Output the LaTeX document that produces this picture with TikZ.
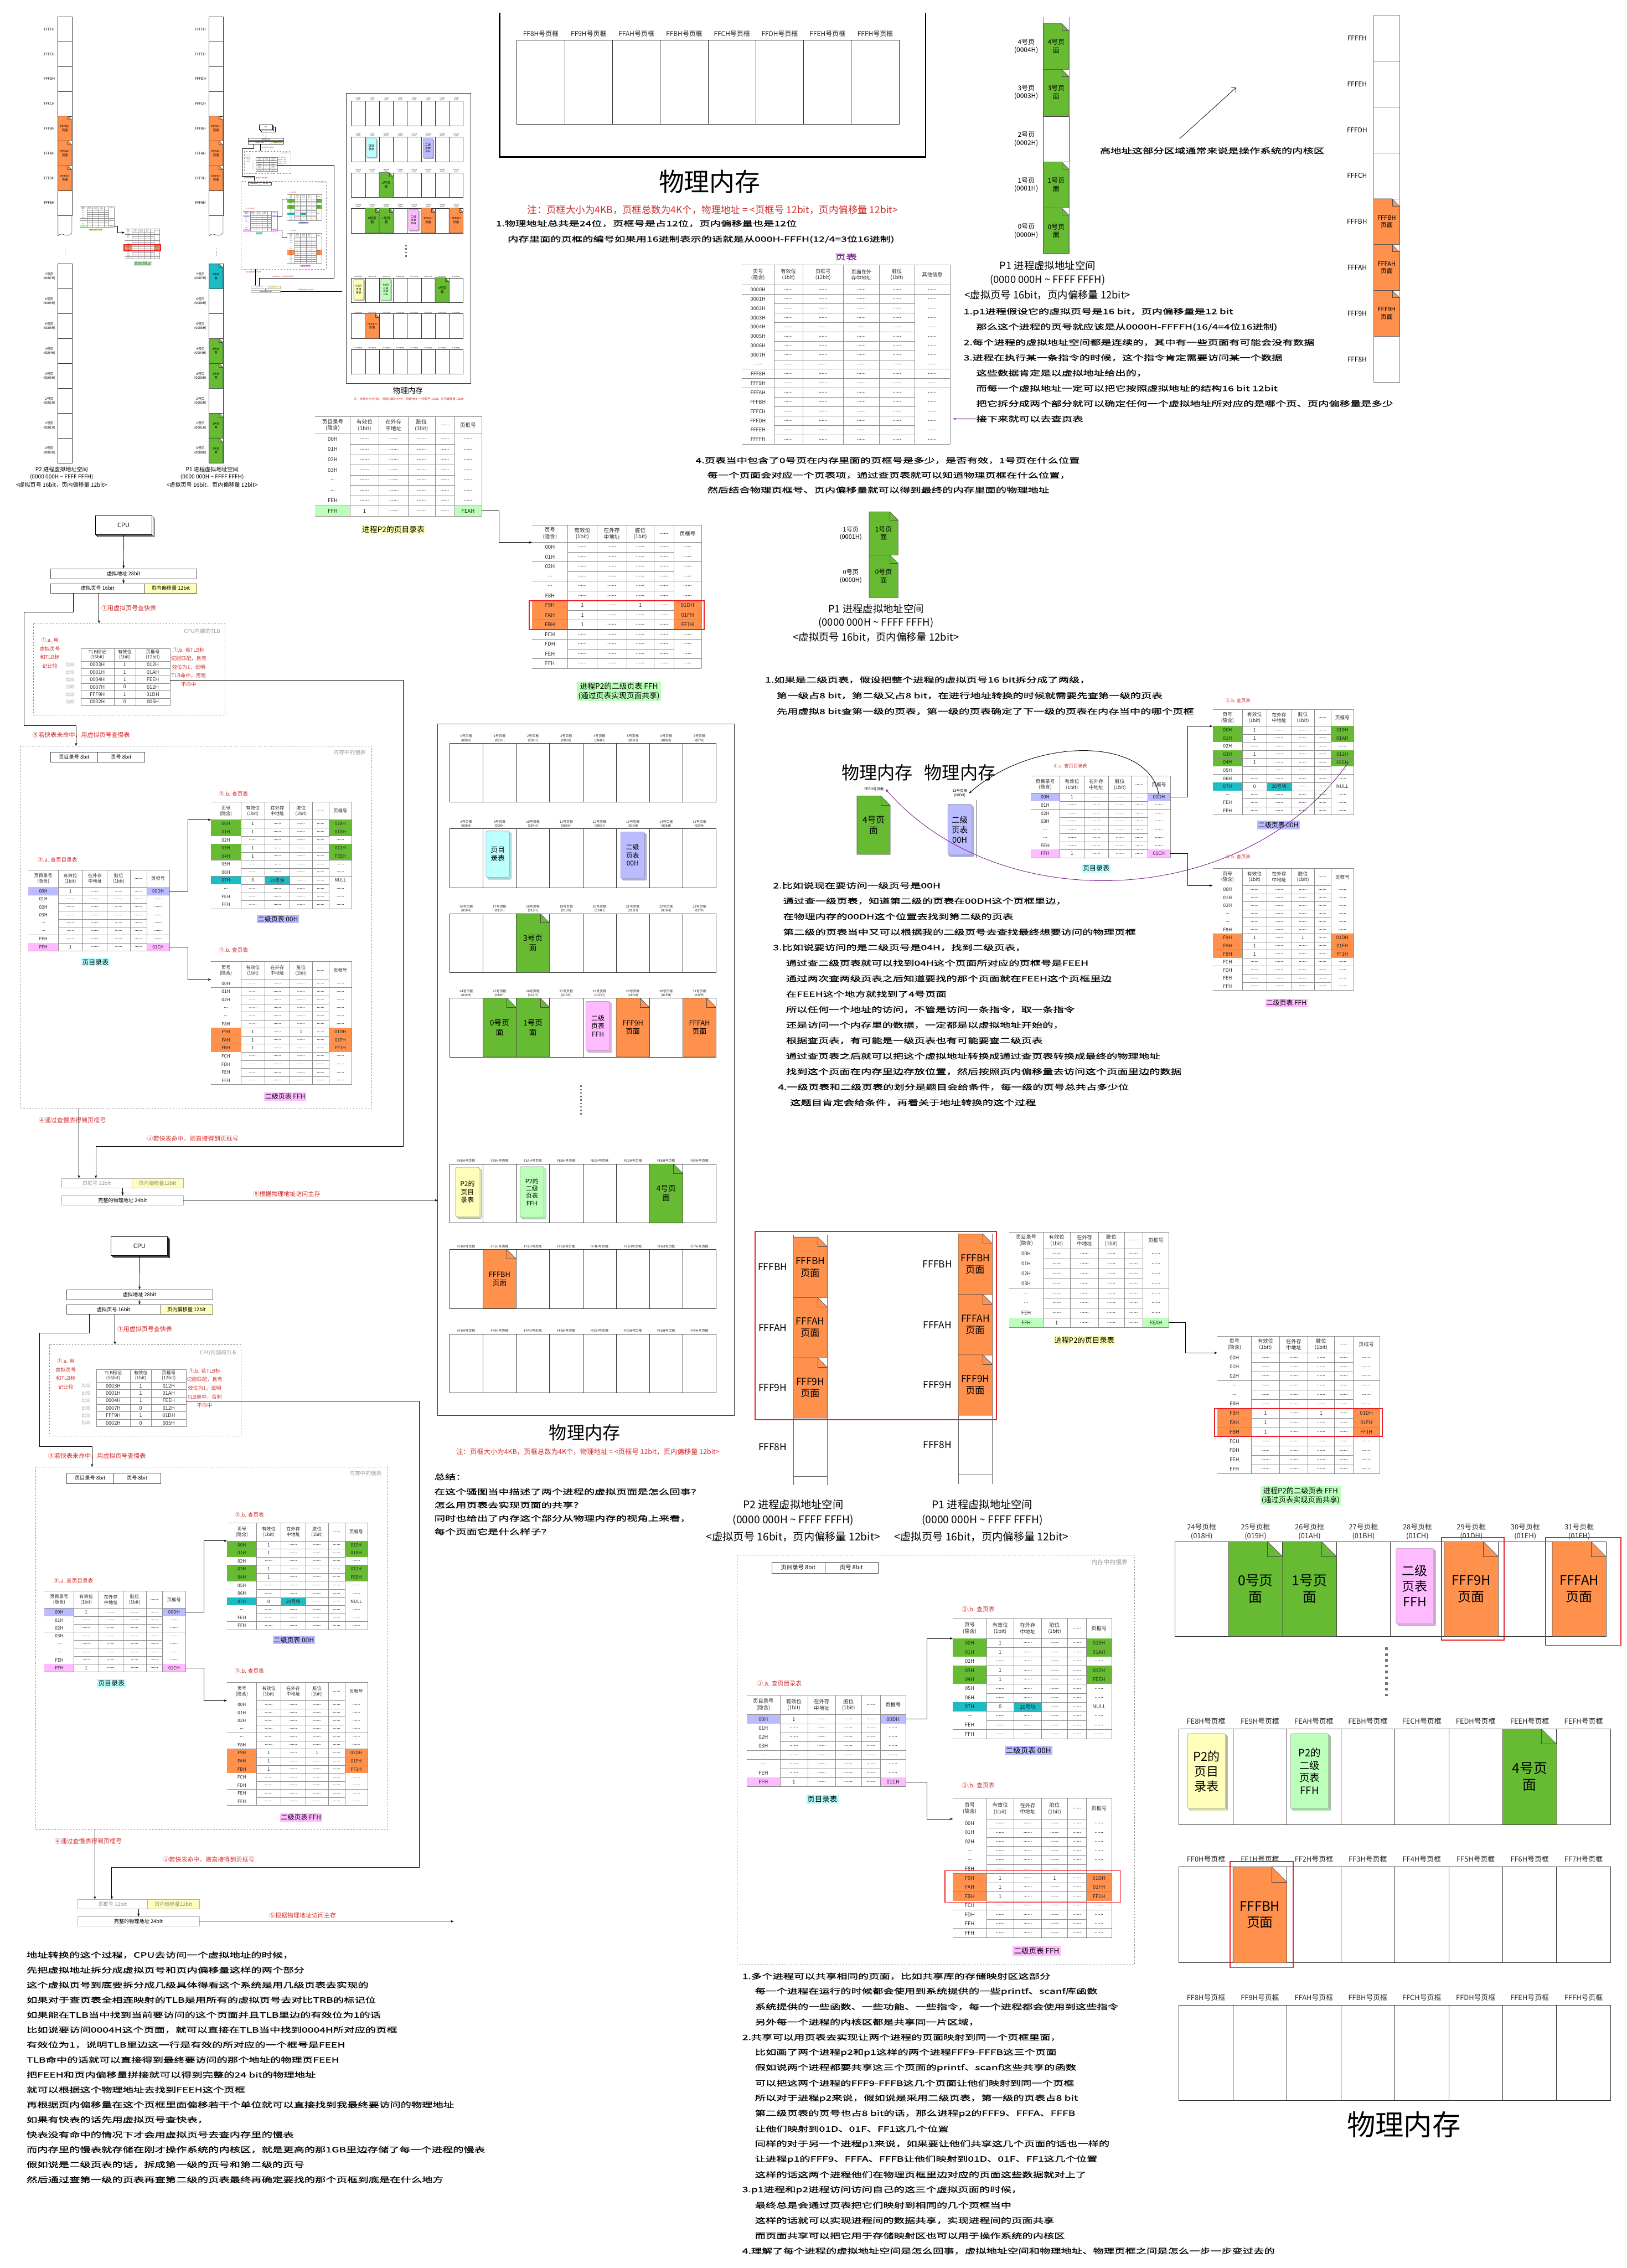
\documentclass[tikz,border=0pt]{standalone}
\usepackage{fontspec}
\setmainfont{Noto Sans CJK SC}
\newfontfamily\hand[FakeStretch=1.45, FakeBold=1]{Noto Sans CJK SC}
\usetikzlibrary{positioning,arrows.meta,shadows}

% colours of the page blocks and labels
\definecolor{pggreen}{HTML}{66BB33}
\definecolor{pgorange}{HTML}{FF914D}
\definecolor{pgviolet}{HTML}{BBBBFF}
\definecolor{pgpink}{HTML}{FFBBFF}
\definecolor{pgcyan}{HTML}{BBFFFF}
\definecolor{pgteal}{HTML}{1CBCC4}
\definecolor{pgyellow}{HTML}{FFFFBB}
\definecolor{pglime}{HTML}{BBFFBB}
\definecolor{notered}{HTML}{D42A2A}
\definecolor{boxred}{HTML}{E8202A}
\definecolor{curvepurple}{HTML}{7A1F8C}
\colorlet{nc}{white}

\newcommand{\fsz}[1]{\fontsize{#1}{\fpeval{1.22*#1}}\selectfont}
\def\dd{......}
\def\tdots{...}
\def\colf{{0,.21,.383,.558,.72,.837,1}}

% table heads
\def\hpg{{页号\\(隐含)},{有效位\\(1bit)},{在外存\\中地址},{脏位\\(1bit)},{\dd},{页框号}}
\def\hdir{{页目录号\\(隐含)},{有效位\\(1bit)},{在外存\\中地址},{脏位\\(1bit)},{\dd},{页框号}}
\def\hpt{{页号\\(隐含)},{有效位\\(1bit)},{页框号\\(12bit)},{页面在外\\存中地址},{脏位\\(1bit)},{其他信息}}

% table rows: label/valid/disk/dirty/frame/label colour/frame colour
\def\rowsPT{0000H/\dd/\dd/\dd/\dd/nc/nc,0001H/\dd/\dd/\dd/\dd/nc/nc,0002H/\dd/\dd/\dd/\dd/nc/nc,0003H/\dd/\dd/\dd/\dd/nc/nc,0004H/\dd/\dd/\dd/\dd/nc/nc,0005H/\dd/\dd/\dd/\dd/nc/nc,0006H/\dd/\dd/\dd/\dd/nc/nc,0007H/\dd/\dd/\dd/\dd/nc/nc,\dd/\dd/\dd/\dd/\dd/nc/nc,FFF8H/\dd/\dd/\dd/\dd/nc/nc,FFF9H/\dd/\dd/\dd/\dd/nc/nc,FFFAH/\dd/\dd/\dd/\dd/nc/nc,FFFBH/\dd/\dd/\dd/\dd/nc/nc,FFFCH/\dd/\dd/\dd/\dd/nc/nc,FFFDH/\dd/\dd/\dd/\dd/nc/nc,FFFEH/\dd/\dd/\dd/\dd/nc/nc,FFFFH/\dd/\dd/\dd/\dd/nc/nc}
\def\rowsTD{00H/1/\dd/\dd/00DH/pgviolet/pgviolet,01H/\dd/\dd/\dd/\dd/nc/nc,02H/\dd/\dd/\dd/\dd/nc/nc,03H/\dd/\dd/\dd/\dd/nc/nc,\tdots/\dd/\dd/\dd/\dd/nc/nc,\tdots/\dd/\dd/\dd/\dd/nc/nc,FEH/\dd/\dd/\dd/\dd/nc/nc,FFH/1/\dd/\dd/01CH/pgpink/pgpink}
\def\rowsPD{00H/\dd/\dd/\dd/\dd/nc/nc,01H/\dd/\dd/\dd/\dd/nc/nc,02H/\dd/\dd/\dd/\dd/nc/nc,03H/\dd/\dd/\dd/\dd/nc/nc,\tdots/\dd/\dd/\dd/\dd/nc/nc,\tdots/\dd/\dd/\dd/\dd/nc/nc,FEH/\dd/\dd/\dd/\dd/nc/nc,FFH/1/\dd/\dd/FEAH/pglime/pglime}
\def\rowsTA{00H/1/\dd/\dd/019H/pggreen/pggreen,01H/1/\dd/\dd/01AH/pggreen/pggreen,02H/\dd/\dd/\dd/\dd/nc/nc,03H/1/\dd/\dd/012H/pggreen/pggreen,04H/1/\dd/\dd/FEEH/pggreen/pggreen,05H/\dd/\dd/\dd/\dd/nc/nc,06H/\dd/\dd/\dd/\dd/nc/nc,07H/0/20号块/\dd/NULL/pgteal/nc,\tdots/\dd/\dd/\dd/\dd/nc/nc,FEH/\dd/\dd/\dd/\dd/nc/nc,FFH/\dd/\dd/\dd/\dd/nc/nc}
\def\rowsTF{00H/\dd/\dd/\dd/\dd/nc/nc,01H/\dd/\dd/\dd/\dd/nc/nc,02H/\dd/\dd/\dd/\dd/nc/nc,\tdots/\dd/\dd/\dd/\dd/nc/nc,\tdots/\dd/\dd/\dd/\dd/nc/nc,F8H/\dd/\dd/\dd/\dd/nc/nc,F9H/1/\dd/1/01DH/pgorange/pgorange,FAH/1/\dd/\dd/01FH/pgorange/pgorange,FBH/1/\dd/\dd/FF1H/pgorange/pgorange,FCH/\dd/\dd/\dd/\dd/nc/nc,FDH/\dd/\dd/\dd/\dd/nc/nc,FEH/\dd/\dd/\dd/\dd/nc/nc,FFH/\dd/\dd/\dd/\dd/nc/nc}

% \ptab{name}{x}{y}{width}{head h}{row h}{heads}{rows}{font}
\newcommand{\ptab}[9]{%
  \begin{scope}[shift={(#2,#3)}, font=#9]
    \draw[tabline] (0,0) -- (#4,0) (0,#5) -- (#4,#5);
    \foreach \h [count=\j] in #7 {
      \pgfmathsetmacro\xa{\colf[\j-1]*#4}
      \pgfmathsetmacro\xb{\colf[\j]*#4}
      \draw[tabline] (\xb,0) -- (\xb,#5);
      \node[tabtext] (#1-h\j) at ({(\xa+\xb)/2},{#5/2}) {\h};
    }
    \foreach \l/\va/\vb/\vc/\vf/\cl/\cf [count=\i] in #8 {
      \pgfmathsetmacro\ya{#5+(\i-1)*#6}
      \pgfmathsetmacro\yb{\ya+#6}
      \pgfmathsetmacro\xl{\colf[1]*#4}
      \pgfmathsetmacro\xf{\colf[5]*#4}
      \fill[\cl] (0,\ya) rectangle (\xl,\yb);
      \fill[\cf] (\xf,\ya) rectangle (#4,\yb);
      \coordinate (#1-w\i) at (0,\ya);
      \coordinate (#1-e\i) at (#4,{\ya+#6/2});
      \draw[tabline] (0,\yb) -- (#4,\yb);
      \foreach \v [count=\k] in {\l,\va,\vb,\vc,\dd,\vf} {
        \pgfmathsetmacro\xa{\colf[\k-1]*#4}
        \pgfmathsetmacro\xb{\colf[\k]*#4}
        \draw[tabline] (\xb,\ya) -- (\xb,\yb);
        \node[tabtext] (#1-r\i-\k) at ({(\xa+\xb)/2},{(\ya+\yb)/2}) {\v};
      }
    }
  \end{scope}}

% one row of eight page frames with their labels
\newcommand{\memrow}[8]{%
  \foreach \t [count=\i] in {#6} {
    \draw[frm] ({#2+(\i-1)*#4},#3) rectangle ++(#4,#5);
    \node[lbltext, font=#7] (#1-\i) at ({#2+(\i-0.5)*#4},{#3-#8}) {\t};
  }}

% page with a folded corner
\newcommand{\pagenode}[8]{%
  \filldraw[fill=#6, draw=black!70, line width=0.25mm] (#2,#3) -- ++({0.72*#4},0) -- ++({0.28*#4},{0.28*#4}) -- ++(0,{#5-0.28*#4}) -- ++(-#4,0) -- cycle;
  \draw[black!70, line width=0.25mm] ({#2+0.72*#4},#3) -- ++(0,{0.28*#4}) -- ++({0.28*#4},0);
  \node[align=center, inner sep=0, font=#8] (#1) at ({#2+0.5*#4},{#3+0.5*#5}) {#7};}

% stack of sheets (page tables)
\newcommand{\stacknode}[8]{%
  \foreach \o in {1.4,0.7,0} \filldraw[fill=#6, draw=black!45, line width=0.2mm, rounded corners=0.6mm] ({#2+\o},{#3+\o}) rectangle ++(#4,#5);
  \node[align=center, inner sep=0, font=#8] (#1) at ({#2+0.5*#4},{#3+0.5*#5}) {#7};}

% physical memory with 7 rows of frames: name, x, y, scale
\newcommand{\physmem}[4]{%
  \begin{scope}[shift={(#2,#3)}, scale=#4, transform shape]
    \draw[black!80, line width=0.35mm] (0,0) rectangle (205.2,478.1);
    \coordinate (#1-in) at (0,329.9);
    \memrow{#1-a}{8.2}{13.3}{23.04}{40.8}{0号页框\\(000H),1号页框\\(001H),2号页框\\(002H),3号页框\\(003H),4号页框\\(004H),5号页框\\(005H),6号页框\\(006H),7号页框\\(007H)}{\fsz{6.5}}{0.6}
    \memrow{#1-b}{8.2}{72.4}{23.04}{40.8}{8号页框\\(008H),9号页框\\(009H),10号页框\\(00AH),11号页框\\(00BH),12号页框\\(00CH),13号页框\\(00DH),14号页框\\(00EH),15号页框\\(00FH)}{\fsz{6.5}}{0.6}
    \memrow{#1-c}{8.2}{131.1}{23.04}{40.8}{16号页框\\(010H),17号页框\\(011H),18号页框\\(012H),19号页框\\(013H),20号页框\\(014H),21号页框\\(015H),22号页框\\(016H),23号页框\\(017H)}{\fsz{6.5}}{0.6}
    \memrow{#1-d}{8.2}{189.5}{23.04}{40.8}{24号页框\\(018H),25号页框\\(019H),26号页框\\(01AH),27号页框\\(01BH),28号页框\\(01CH),29号页框\\(01DH),30号页框\\(01EH),31号页框\\(01FH)}{\fsz{6.5}}{0.6}
    \memrow{#1-e}{8.2}{304.2}{23.04}{40.8}{FE8H号页框,FE9H号页框,FEAH号页框,FEBH号页框,FECH号页框,FEDH号页框,FEEH号页框,FEFH号页框}{\fsz{6.5}}{1}
    \memrow{#1-f}{8.2}{363.3}{23.04}{40.8}{FF0H号页框,FF1H号页框,FF2H号页框,FF3H号页框,FF4H号页框,FF5H号页框,FF6H号页框,FF7H号页框}{\fsz{6.5}}{1}
    \memrow{#1-g}{8.2}{421.7}{23.04}{40.8}{FF8H号页框,FF9H号页框,FFAH号页框,FFBH号页框,FFCH号页框,FFDH号页框,FFEH号页框,FFFH号页框}{\fsz{6.5}}{1}
    \stacknode{#1-dir}{33.4}{74}{16.2}{32}{pgcyan}{页目\\录表}{\fsz{14}}
    \stacknode{#1-t00}{126.5}{74.7}{16.5}{32}{pgviolet}{二级\\页表\\00H}{\fsz{13}}
    \pagenode{#1-p3}{54.28}{131.1}{23.04}{40.8}{pggreen}{3号页\\面}{\fsz{15}}
    \pagenode{#1-p0}{31.24}{189.5}{23.04}{40.8}{pggreen}{0号页\\面}{\fsz{15}}
    \pagenode{#1-p1}{54.28}{189.5}{23.04}{40.8}{pggreen}{1号页\\面}{\fsz{15}}
    \stacknode{#1-tff}{102.5}{191.8}{16.5}{34}{pgpink}{二级\\页表\\FFH}{\fsz{13}}
    \pagenode{#1-f9}{123.4}{189.5}{23.04}{40.8}{pgorange}{FFF9H\\页面}{\fsz{14}}
    \pagenode{#1-fa}{169.48}{189.5}{23.04}{40.8}{pgorange}{FFFAH\\页面}{\fsz{14}}
    \stacknode{#1-p2d}{12.3}{306.5}{16.5}{34}{pgyellow}{P2的\\页目\\录表}{\fsz{13}}
    \stacknode{#1-p2t}{56.9}{306}{16.5}{35}{pglime}{P2的\\二级\\页表\\FFH}{\fsz{12}}
    \pagenode{#1-p4}{146.44}{304.2}{23.04}{40.8}{pggreen}{4号页\\面}{\fsz{15}}
    \pagenode{#1-fb}{31.24}{363.3}{23.04}{40.8}{pgorange}{FFFBH\\页面}{\fsz{14}}
    \draw[black!55, line width=1.2mm, dash pattern=on 1mm off 1.4mm] (98.9,249.9) -- (98.9,271.5);
    \node[font=\fsz{35}] (#1-title) at (101.6,489.8) {物理内存};
    \node[text=notered, font=\fsz{13.5}] (#1-note) at (103.8,503.3) {注：页框大小为4KB，页框总数为4K个，物理地址 = <页框号 12bit，页内偏移量 12bit>};
  \end{scope}}

% page directory and second level table of P2: name, x, y, scale
\newcommand{\ptwo}[4]{%
  \begin{scope}[shift={(#2,#3)}, scale=#4, transform shape]
    \ptab{#1-a}{0}{0}{115}{12}{7.1}{\hdir}{\rowsPD}{\fsz{10.5}}
    \node[tag, fill=pgyellow, font=\fsz{15}] (#1-ta) at (54,78) {进程P2的页目录表};
    \ptab{#1-b}{150}{75}{117}{12}{6.7}{\hpg}{\rowsTF}{\fsz{10.5}}
    \draw[redbox] (148,127.2) rectangle (269,147.3);
    \node[tag, fill=pglime, font=\fsz{15}] (#1-tb) at (210,190) {进程P2的二级页表 FFH\\(通过页表实现页面共享)};
    \draw[conn] (#1-a-e8) -- ++(12,0) |- (#1-b-w1);
  \end{scope}}

% slow tables in memory: name, x, y, scale, box w, box h
\newcommand{\slowbox}[6]{%
  \begin{scope}[shift={(#2,#3)}, scale=#4, transform shape]
    \draw[dashed, black!45, line width=0.25mm] (0,0) rectangle (#5,#6);
    \node[font=\fsz{10.5}, text=black!40, anchor=north east] (#1-t) at ({#5-3},1.5) {内存中的慢表};
    \node[bar, minimum width=32.5mm, minimum height=7mm, anchor=north west] (#1-b1) at (21.2,4.1) {页目录号 8bit};
    \node[bar, minimum width=32.5mm, minimum height=7mm, anchor=north west] (#1-b2) at (53.7,4.1) {页号 8bit};
    \node[rednote, font=\fsz{10.5}, anchor=west] (#1-l1) at (137.5,33) {③.b. 查页表};
    \fill[pgteal] (169.5,90.06) rectangle (186.5,95.64);
    \ptab{#1-ta}{132.2}{38.7}{97.3}{12.3}{5.58}{\hpg}{\rowsTA}{\fsz{9}}
    \node[tag, fill=pgviolet, font=\fsz{13}] (#1-g1) at (178.4,119.5) {二级页表 00H};
    \node[rednote, font=\fsz{10.5}, anchor=west] (#1-l2) at (12.2,78.7) {③.a. 查页目录表};
    \ptab{#1-td}{5.9}{85.6}{97.6}{12}{5.5}{\hdir}{\rowsTD}{\fsz{9}}
    \node[tag, fill=pgcyan, font=\fsz{13}] (#1-g2) at (52.2,149.4) {页目录表};
    \node[rednote, font=\fsz{10.5}, anchor=west] (#1-l3) at (137.5,140.9) {③.b. 查页表};
    \ptab{#1-tb}{132.2}{148.8}{97.3}{12.6}{5.58}{\hpg}{\rowsTF}{\fsz{9}}
    \node[tag, fill=pgpink, font=\fsz{13}] (#1-g3) at (183.4,242.2) {二级页表 FFH};
    \draw[conn] (#1-td-e1) -- ++(12.8,0) |- (#1-ta-w1);
    \draw[conn] (#1-td-e8) -- ++(12.8,0) |- (#1-tb-w1);
  \end{scope}}

% CPU -> TLB -> slow tables -> physical address
\newcommand{\cpudiag}[1]{%
  \node[draw, fill=white, line width=0.35mm, minimum width=39mm, minimum height=13mm, font=\fsz{12},
        double copy shadow={shadow xshift=0.8mm, shadow yshift=-0.8mm}] (#1-cpu) at (85.4,363) {CPU};
  \node[bar, minimum width=101mm, minimum height=6.9mm] (#1-va) at (85.5,396.6) {虚拟地址 28bit};
  \node[bar, minimum width=64.9mm, anchor=north west] (#1-vpn) at (35,403.4) {虚拟页号 16bit};
  \node[bar, fill=pgyellow, minimum width=36.1mm, anchor=north west] (#1-off) at (99.9,403.4) {页内偏移量 12bit};
  \draw[conn] (#1-cpu.south) -- (#1-va.north);
  \draw[conn] (#1-va.south) -- (#1-va.south |- #1-vpn.north);
  \draw[conn] ([xshift=33.5mm]#1-vpn.south west) -- ++(0,21);
  \node[rednote, font=\fsz{12}, anchor=west] (#1-s1) at (70,420.5) {①用虚拟页号查快表};
  \draw[dashed, black!45, line width=0.25mm] (23.2,430.9) rectangle (155.6,494.4);
  \node[font=\fsz{10.5}, text=black!40, anchor=east] (#1-tt) at (153.5,436.5) {CPU内部的TLB};
  \draw[tabline] (55.8,448.2) rectangle (117.7,487.8);
  \foreach \i in {0,...,5} \draw[tabline] (55.8,{457+\i*5.13}) -- (117.7,{457+\i*5.13});
  \foreach \xx in {78.9,93.7} \draw[tabline] (\xx,448.2) -- (\xx,487.8);
  \foreach \h/\xx [count=\j] in {{TLB标记\\(16bit)}/67.3,{有效位\\(1bit)}/86.3,{页框号\\(12bit)}/105.7}
    \node[tabtext, font=\fontsize{9}{9.5}\selectfont] (#1-th\j) at (\xx,452.6) {\h};
  \foreach \a/\b/\c [count=\i] in {0003H/1/012H,0001H/1/01AH,0004H/1/FEEH,0007H/0/012H,FFF9H/1/01DH,0002H/0/005H} {
    \node[tabtext, font=\fsz{10}] (#1-tk\i) at (67.3,{457+(\i-0.5)*5.13}) {\a};
    \node[tabtext, font=\fsz{10}] (#1-tv\i) at (86.3,{457+(\i-0.5)*5.13}) {\b};
    \node[tabtext, font=\fsz{10}] (#1-tf\i) at (105.7,{457+(\i-0.5)*5.13}) {\c};
    \node[font=\fsz{9}, text=black!35, inner sep=0] (#1-cmp\i) at (48.5,{457+(\i-0.5)*5.13}) {比较};
  }
  \node[rednote, align=center, font=\fontsize{10}{17}\selectfont] (#1-s2a) at (34.5,451.5) {①.a. 用\\虚拟页号\\和TLB标\\记比较};
  \node[rednote, align=center, font=\fontsize{10}{17}\selectfont] (#1-s2b) at (130.5,461.2) {①.b. 若TLB标\\记能匹配，且有\\效位为1，说明\\TLB命中，否则\\不命中};
  \node[rednote, font=\fsz{12}, anchor=west] (#1-s2c) at (22.3,508) {③若快表未命中，用虚拟页号查慢表};
  \draw[conn] ([xshift=15.7mm]#1-vpn.south west) -- ++(0,13.1) -| (16.5,501.7) -| (52.6,515.8);
  \slowbox{#1-sb}{13.8}{515.8}{1}{243.3}{250.7}
  \node[rednote, font=\fsz{12}, anchor=west] (#1-s4) at (26.7,774.4) {④通过查慢表得到页框号};
  \node[rednote, font=\fsz{12}, anchor=west] (#1-s3) at (101.6,787.3) {②若快表命中，则直接得到页框号};
  \node[bar, draw=black!30, text=black!45, minimum width=48.5mm, anchor=north west] (#1-pfn) at (42.5,814.7) {页框号 12bit};
  \node[bar, draw=black!30, fill=pgyellow, text=black!45, minimum width=35.7mm, anchor=north west] (#1-poff) at (91,814.7) {页内偏移量12bit};
  \node[bar, draw=black!30, minimum width=84.2mm, anchor=north west] (#1-pa) at (42.5,826.5) {完整的物理地址 24bit};
  \draw[conn] (54.6,766.5) -- (#1-pfn.north -| 54.6,0);
  \draw[conn] (117.7,470.2) -- (279,470.2) |- (66.3,792.6) -- (#1-pfn.north -| 66.3,0);
  \draw[conn] (#1-pfn.south -| 84.8,0) -- (#1-pa.north -| 84.8,0);
  \draw[conn] (#1-pa.east) -- ++(176,0);
  \node[rednote, font=\fsz{12}, anchor=west] (#1-s5) at (175,825.6) {⑤根据物理地址访问主存};
}

\begin{document}
\begin{tikzpicture}[x=1mm, y=-1mm,
  frm/.style={draw=black!80, line width=0.3mm},
  tabline/.style={draw=black!45, line width=0.2mm},
  tabtext/.style={inner sep=0, align=center, text=black!85},
  lbltext/.style={anchor=south, align=center, inner sep=0, text=black!85},
  hnote/.style={anchor=west, inner sep=0, font=\hand\fsz{14.5}},
  rednote/.style={text=notered, inner sep=0, align=left},
  tag/.style={inner sep=0.8mm, align=center},
  bar/.style={draw=black!70, fill=white, minimum height=6.5mm, inner sep=0, font=\fsz{10}},
  redbox/.style={draw=boxred, line width=0.7mm},
  conn/.style={-{Stealth[length=2.2mm, width=1.6mm]}, line width=0.35mm},
  vlbl/.style={anchor=east, align=center, inner sep=0},
  thumb/.style={tabline/.style={draw=black!45, line width=0.05mm},
                frm/.style={draw=black!80, line width=0.08mm},
                conn/.style={-{Stealth[length=0.8mm, width=0.6mm]}, line width=0.1mm},
                redbox/.style={draw=boxred, line width=0.2mm}}]

\useasboundingbox (0,0) rectangle (1125,1568);

% ---------------- top left: P2 and P1 virtual spaces
\foreach \cx/\lx/\nm in {40.1/34.1/ta,144.6/138.6/tb} {
  \foreach \lb [count=\i] in {FFFFH,FFFEH,FFFDH,FFFCH,FFFBH,FFFAH,FFF9H,FFF8H} {
    \draw[frm, line width=0.2mm] (\cx,{11.7+(\i-1)*17.15}) rectangle ++(9.6,17.15);
    \node[font=\fsz{7}] (\nm-u\i) at (\lx,{11.7+(\i-0.5)*17.15}) {\lb};
  }
  \foreach \lb/\i in {FFFBH/5,FFFAH/6,FFF9H/7} {
    \pgfmathsetmacro\yy{11.7+(\i-1)*17.15}
    \pagenode{\nm-p\i}{\cx}{\yy}{9.6}{17.15}{pgorange}{\lb\\页面}{\fsz{6}}
  }
  \draw[frm, line width=0.2mm] (\cx,148.9) -- (\cx,163) .. controls ({\cx+3},159.5) and ({\cx+6},165.5) .. ({\cx+9.6},161) -- ({\cx+9.6},148.9);
  \draw[black!60, dotted, line width=0.5mm] ({\cx+4.8},171.5) -- ({\cx+4.8},176.5);
  \foreach \n [count=\i] in {7,6,5,4,3,2,1,0} {
    \draw[frm, line width=0.2mm] (\cx,{182.5+(\i-1)*17.2}) rectangle ++(9.6,17.2);
    \node[align=center, font=\fsz{6.5}] (\nm-l\i) at (\lx,{182.5+(\i-0.5)*17.2}) {\n{}号页\\(000\n H)};
  }
}
\foreach \n/\i/\cl in {7/1/pgteal,4/4/pggreen,3/5/pggreen,1/7/pggreen,0/8/pggreen} {
  \pgfmathsetmacro\yy{182.5+(\i-1)*17.2}
  \pagenode{tb-q\n}{144.6}{\yy}{9.6}{17.2}{\cl}{\n{}号页\\面}{\fsz{5.5}}
}
\foreach \cx/\nm/\p in {42.6/ta/P2,146.7/tb/P1} {
  \node[font=\fsz{11}] (\nm-c1) at (\cx,324.3) {\p{} 进程虚拟地址空间};
  \node[font=\fsz{11}] (\nm-c2) at (\cx,329.8) {(0000 000H \textasciitilde{} FFFF FFFH)};
  \node[font=\fsz{11}] (\nm-c3) at (\cx,335.3) {<虚拟页号 16bit，页内偏移量 12bit>};
}

% small copies of the tables, the translation and the memory
\ptwo{pt2}{55}{142.7}{0.208}
\begin{scope}[thumb]
  \begin{scope}[shift={(163.15,-0.21)}, scale=0.243, transform shape]
    \cpudiag{cpuT}
  \end{scope}
  \physmem{memT}{239.4}{64.3}{0.42}
\end{scope}

% ---------------- top middle: last row of physical memory
\draw[line width=1mm] (345.5,8.7) -- (345.5,108.5) -- (640,108.5) -- (640,8.7);
\memrow{tm}{357.5}{27.7}{33.03}{58.3}{FF8H号页框,FF9H号页框,FFAH号页框,FFBH号页框,FFCH号页框,FFDH号页框,FFEH号页框,FFFH号页框}{\fsz{13}}{2}
\node[font=\fsz{50}] (tm-title) at (490.7,125.7) {物理内存};
\node[text=notered, font=\fsz{19}] (tm-note) at (492.8,145.3) {注：页框大小为4KB，页框总数为4K个，物理地址 = <页框号 12bit，页内偏移量 12bit>};
\node[hnote] (tm-n1) at (342.8,154.5) {1.物理地址总共是24位，页框号是占12位，页内偏移量也是12位};
\node[hnote] (tm-n2) at (351,165.5) {内存里面的页框的编号如果用16进制表示的话就是从000H-FFFH(12/4=3位16进制)};

% ---------------- page table of P1
\node[font=\hand\fsz{15}, text=curvepurple] (pt-title) at (585,177.6) {页表};
{\def\colf{{0,.155,.292,.488,.66,.829,1}}
 \ptab{pt}{513}{183}{144}{14}{6.47}{\hpt}{\rowsPT}{\fsz{10}}}

% ---------------- P1 virtual space (top right)
\draw[black!50, line width=0.25mm] (721.4,11.9) -- (721.4,175.5) (739.2,11.9) -- (739.2,175.5);
\draw[frm, line width=0.2mm] (721.4,80.3) rectangle ++(17.8,31.7);
\foreach \n/\y in {4/16.3,3/48,1/112,0/143.8} {
  \pagenode{vp-\n}{721.4}{\y}{17.8}{31.7}{pggreen}{\n{}号页\\面}{\fsz{13}}
}
\foreach \n/\y in {4/16.3,3/48,2/80.3,1/112,0/143.8}
  \node[vlbl, font=\fsz{13}] (vl-\n) at (718,{\y+15.9}) {\n{}号页\\(000\n H)};
\node[font=\fsz{20}] (vp-cap1) at (724.4,183.5) {P1 进程虚拟地址空间};
\node[font=\fsz{20}] (vp-cap2) at (724.4,193.7) {(0000 000H \textasciitilde{} FFFF FFFH)};
\node[font=\fsz{20}] (vp-cap3) at (724.4,204) {<虚拟页号 16bit，页内偏移量 12bit>};

% kernel area at the top of the space
\foreach \lb [count=\i] in {FFFFH,FFFEH,FFFDH,FFFCH,FFFBH,FFFAH,FFF9H,FFF8H} {
  \draw[black!50, line width=0.25mm] (950,{10.6+(\i-1)*31.7}) rectangle ++(17.7,31.7);
  \node[font=\fsz{13}] (kv-\lb) at (938.4,{26.45+(\i-1)*31.7}) {\lb};
}
\foreach \lb/\y in {FFFBH/137.4,FFFAH/169.1,FFF9H/200.8} {
  \pagenode{kp-\lb}{950}{\y}{17.7}{31.7}{pgorange}{\lb\\页面}{\fsz{12}}
}
\coordinate (kern-from) at (815.6,96);
\coordinate (kern-to) at (854.8,60.5);
\draw[-{Straight Barb[length=2.5mm]}, line width=0.3mm] (kern-from) -- (kern-to);
\node[hnote] (kern-txt) at (760.5,104.2) {高地址这部分区域通常来说是操作系统的内核区};

% notes on the P1 space
\foreach \x/\t [count=\i] in {666.3/{1.p1进程假设它的虚拟页号是16 bit，页内偏移量是12 bit},675/{那么这个进程的页号就应该是从0000H-FFFFH(16/4=4位16进制)},666.3/{2.每个进程的虚拟地址空间都是连续的，其中有一些页面有可能会没有数据},666.3/{3.进程在执行某一条指令的时候，这个指令肯定需要访问某一个数据},675/{这些数据肯定是以虚拟地址给出的，},675/{而每一个虚拟地址一定可以把它按照虚拟地址的结构16 bit 12bit},675/{把它拆分成两个部分就可以确定任何一个虚拟地址所对应的是哪个页、页内偏移量是多少},675/{接下来就可以去查页表}}
  \node[hnote] (pn-\i) at (\x,{215.6+(\i-1)*10.57}) {\t};
\coordinate (pn-tip) at (659,289.6);
\draw[-{Stealth[length=1.8mm]}, curvepurple, line width=0.4mm] (pn-8.west) -- (pn-tip);
\foreach \x/\t [count=\i] in {481/{4.页表当中包含了0号页在内存里面的页框号是多少，是否有效，1号页在什么位置},489/{每一个页面会对应一个页表项，通过查页表就可以知道物理页框在什么位置，},489/{然后结合物理页框号、页内偏移量就可以得到最终的内存里面的物理地址}}
  \node[hnote] (pq-\i) at (\x,{318.3+(\i-1)*10.2}) {\t};

% ---------------- P2 tables (upper copy)
\ptwo{pu}{218}{288}{1}

% ---------------- P1 virtual space (middle)
\pagenode{mp-1}{601}{353.9}{20}{29.8}{pggreen}{1号页\\面}{\fsz{13}}
\pagenode{mp-0}{601}{383.7}{20}{29.5}{pggreen}{0号页\\面}{\fsz{13}}
\node[vlbl, font=\fsz{12}] (ml-1) at (596,368.8) {1号页\\(0001H)};
\node[vlbl, font=\fsz{12}] (ml-0) at (596,398.5) {0号页\\(0000H)};
\node[font=\fsz{20}] (mp-cap1) at (605.8,420.7) {P1 进程虚拟地址空间};
\node[font=\fsz{20}] (mp-cap2) at (605.8,430.5) {(0000 000H \textasciitilde{} FFFF FFFH)};
\node[font=\fsz{20}] (mp-cap3) at (605.8,440.5) {<虚拟页号 16bit，页内偏移量 12bit>};

% ---------------- two level page table
\foreach \x/\t [count=\i] in {529/{1.如果是二级页表，假设把整个进程的虚拟页号16 bit拆分成了两级，},537/{第一级占8 bit，第二级又占8 bit，在进行地址转换的时候就需要先查第一级的页表},537/{先用虚拟8 bit查第一级的页表，第一级的页表确定了下一级的页表在内存当中的哪个页框}}
  \node[hnote] (tl-n\i) at (\x,{470+(\i-1)*10.9}) {\t};
\node[font=\fsz{35}] (tl-m1) at (606.5,534) {物理内存};
\node[font=\fsz{35}] (tl-m2) at (663.8,534) {物理内存};
\node[font=\fsz{7}] (tl-feeh) at (604.4,545.5) {FEEH号页框};
\pagenode{tl-p4}{592.6}{550.3}{23}{40.4}{pggreen}{4号页\\面}{\fsz{17}}
\node[align=center, font=\fsz{7}] (tl-13) at (663.7,548.5) {13号页框\\(00DH)};
\stacknode{tl-s00}{655.4}{556}{16.5}{35}{pgviolet}{二级\\页表\\00H}{\fsz{16}}
\draw[black!70, line width=0.25mm] (675.5,553) -- (675.5,593);
\node[rednote, font=\fsz{9}] (td-lbl) at (740,529.7) {③.a. 查页目录表};
\ptab{td}{712.6}{536.4}{96.7}{12}{5.57}{\hdir}{\rowsTD}{\fsz{9.5}}
\node[tag, fill=pgcyan, font=\fsz{13}] (td-tag) at (758,600.3) {页目录表};
\node[rednote, font=\fsz{9}] (t00-lbl) at (856,484.4) {③.b. 查页表};
\fill[pgteal] (876,541) rectangle (893.1,546.57);
\ptab{t00}{838.6}{490.4}{97.6}{11.6}{5.57}{\hpg}{\rowsTA}{\fsz{9.5}}
\node[tag, fill=pgviolet, font=\fsz{13}] (t00-tag) at (884,570.4) {二级页表 00H};
\node[rednote, font=\fsz{9}] (tff-lbl) at (856,592.2) {③.b. 查页表};
\ptab{tff}{838.6}{600.3}{97.6}{11.9}{5.57}{\hpg}{\rowsTF}{\fsz{9.5}}
\node[tag, fill=pgpink, font=\fsz{13}] (tff-tag) at (889.6,693.4) {二级页表 FFH};
\draw[conn] (td-e1) -- ++(12,0) |- (t00-w1);
\draw[conn] (td-e8) -- ++(12,0) |- (tff-w1);
\draw[conn] (td-r1-6.north) .. controls (795,509) and (715,509) .. (tl-13.east);
\draw[conn, curvepurple] (t00-r5-6.east) .. controls (860,630) and (690,635) .. (tl-feeh.east);

\foreach \x/\t [count=\i] in {534.5/{2.比如说现在要访问一级页号是00H},541.5/{通过查一级页表，知道第二级的页表在00DH这个页框里边，},541.5/{在物理内存的00DH这个位置去找到第二级的页表},541.5/{第二级的页表当中又可以根据我的二级页号去查找最终想要访问的物理页框},534.5/{3.比如说要访问的是二级页号是04H，找到二级页表，},543.5/{通过查二级页表就可以找到04H这个页面所对应的页框号是FEEH},543.5/{通过两次查两级页表之后知道要找的那个页面就在FEEH这个页框里边},543.5/{在FEEH这个地方就找到了4号页面},543.5/{所以任何一个地址的访问，不管是访问一条指令，取一条指令},543.5/{还是访问一个内存里的数据，一定都是以虚拟地址开始的，},543.5/{根据查页表，有可能是一级页表也有可能要查二级页表},543.5/{通过查页表之后就可以把这个虚拟地址转换成通过查页表转换成最终的物理地址},543.5/{找到这个页面在内存里边存放位置，然后按照页内偏移量去访问这个页面里边的数据},537.9/{4.一级页表和二级页表的划分是题目会给条件，每一级的页号总共占多少位},546.3/{这题目肯定会给条件，再看关于地址转换的这个过程}}
  \node[hnote] (tl-m\i) at (\x,{612.2+(\i-1)*10.72}) {\t};

% ---------------- physical memory (middle)
\physmem{mem}{302.7}{500.5}{1}

% ---------------- summary questions
\node[hnote] (sum-0) at (300.3,1021) {总结：};
\foreach \t [count=\i] in {在这个骚图当中描述了两个进程的虚拟页面是怎么回事？,怎么用页表去实现页面的共享？,{同时也给出了内存这个部分从物理内存的视角上来看，},每个页面它是什么样子？}
  \node[hnote] (sum-\i) at (300.3,{1031.3+(\i-1)*9.2}) {\t};

% ---------------- shared pages of P2 and P1
\draw[redbox] (522,851.3) rectangle (689,981.4);
\draw[black!60, line width=0.25mm] (548.6,853.7) -- (548.6,1026.7) (572,853.7) -- (572,1026.7) (548.6,1020.5) -- (572,1020.5);
\draw[black!60, line width=0.25mm] (662.7,853.2) -- (662.7,1026) (686.3,853.2) -- (686.3,1026) (662.7,1019.6) -- (686.3,1019.6);
\foreach \lb/\ya/\yb [count=\i] in {FFFBH/855.3/853.2,FFFAH/897/895,FFF9H/938.7/936.7} {
  \pagenode{sl-\i}{548.6}{\ya}{23.4}{41.7}{pgorange}{\lb\\页面}{\fsz{19}}
  \pagenode{sr-\i}{662.7}{\yb}{23.6}{41.8}{pgorange}{\lb\\页面}{\fsz{19}}
}
\foreach \lb/\ya/\yb [count=\i] in {FFFBH/876/874,FFFAH/918/916,FFF9H/959.5/957.6,FFF8H/1000.5/999} {
  \node[font=\fsz{19}] (sll-\i) at (534.3,\ya) {\lb};
  \node[font=\fsz{19}] (srl-\i) at (648.2,\yb) {\lb};
}
\node[font=\fsz{21}] (p2-cap1) at (548.5,1040) {P2 进程虚拟地址空间};
\node[font=\fsz{21}] (p2-cap2) at (548.5,1051) {(0000 000H \textasciitilde{} FFFF FFFH)};
\node[font=\fsz{21}] (p2-cap3) at (548.5,1062.5) {<虚拟页号 16bit，页内偏移量 12bit>};
\node[font=\fsz{21}] (p1-cap1) at (679.3,1040) {P1 进程虚拟地址空间};
\node[font=\fsz{21}] (p1-cap2) at (679.3,1051) {(0000 000H \textasciitilde{} FFFF FFFH)};
\node[font=\fsz{21}] (p1-cap3) at (678.8,1062.5) {<虚拟页号 16bit，页内偏移量 12bit>};

% P2 tables (lower copy)
\ptwo{pl}{698}{851.9}{0.959}

% ---------------- physical memory (bottom right)
\memrow{ra}{812.3}{1065.7}{37.3}{65.7}{24号页框\\(018H),25号页框\\(019H),26号页框\\(01AH),27号页框\\(01BH),28号页框\\(01CH),29号页框\\(01DH),30号页框\\(01EH),31号页框\\(01FH)}{\fsz{14}}{1}
\memrow{rb}{815.3}{1195.3}{37.3}{66.1}{FE8H号页框,FE9H号页框,FEAH号页框,FEBH号页框,FECH号页框,FEDH号页框,FEEH号页框,FEFH号页框}{\fsz{14}}{3}
\memrow{rc}{815.3}{1290.7}{37.3}{66.3}{FF0H号页框,FF1H号页框,FF2H号页框,FF3H号页框,FF4H号页框,FF5H号页框,FF6H号页框,FF7H号页框}{\fsz{14}}{3}
\memrow{rd}{815.3}{1386.3}{37.3}{65.7}{FF8H号页框,FF9H号页框,FFAH号页框,FFBH号页框,FFCH号页框,FFDH号页框,FFEH号页框,FFFH号页框}{\fsz{14}}{3}
\pagenode{rm-p0}{849.6}{1065.7}{37.3}{65.7}{pggreen}{0号页\\面}{\fsz{27}}
\pagenode{rm-p1}{886.9}{1065.7}{37.3}{65.7}{pggreen}{1号页\\面}{\fsz{27}}
\stacknode{rm-tff}{965.4}{1070.4}{26}{52}{pgpink}{二级\\页表\\FFH}{\fsz{25}}
\pagenode{rm-f9}{998.8}{1065.7}{37.3}{65.7}{pgorange}{FFF9H\\页面}{\fsz{26}}
\pagenode{rm-fa}{1073.4}{1065.7}{37.3}{65.7}{pgorange}{FFFAH\\页面}{\fsz{26}}
\draw[redbox] (996.7,1062.9) rectangle (1040,1134);
\draw[redbox] (1068.9,1062.9) rectangle (1120.8,1137.5);
\draw[black!55, line width=1.8mm, dash pattern=on 1.8mm off 2.2mm] (958.8,1139) -- (958.8,1172.5);
\stacknode{rm-p2d}{821.4}{1198.5}{26}{52}{pgyellow}{P2的\\页目\\录表}{\fsz{24}}
\stacknode{rm-p2t}{892.6}{1198.5}{26}{52}{pglime}{P2的\\二级\\页表\\FFH}{\fsz{20}}
\pagenode{rm-p4}{1039.1}{1195.3}{37.3}{66.1}{pggreen}{4号页\\面}{\fsz{27}}
\pagenode{rm-fb}{852.6}{1290.7}{37.3}{66.3}{pgorange}{FFFBH\\页面}{\fsz{26}}
\draw[redbox] (850.6,1287) rectangle (894.1,1360.3);
\node[font=\fsz{56}] (rm-title) at (970.8,1468.8) {物理内存};

% ---------------- address translation with TLB (two copies)
\cpudiag{cpuA}
\begin{scope}[shift={(11,498.5)}]
  \cpudiag{cpuB}
\end{scope}

% ---------------- slow tables (bottom middle)
\slowbox{sbm}{509.6}{1075.1}{1.13}{243.3}{250.7}
\draw[redbox, line width=0.5mm] (653.4,1293.4) rectangle (775.1,1315.1);

% ---------------- notes at the bottom
\foreach \t [count=\i] in {{地址转换的这个过程，CPU去访问一个虚拟地址的时候，},先把虚拟地址拆分成虚拟页号和页内偏移量这样的两个部分,这个虚拟页号到底要拆分成几级具体得看这个系统是用几级页表去实现的,如果对于查页表全相连映射的TLB是用所有的虚拟页号去对比TRB的标记位,如果能在TLB当中找到当前要访问的这个页面并且TLB里边的有效位为1的话,{比如说要访问0004H这个页面，就可以直接在TLB当中找到0004H所对应的页框},{有效位为1，说明TLB里边这一行是有效的所对应的一个框号是FEEH},TLB命中的话就可以直接得到最终要访问的那个地址的物理页FEEH,把FEEH和页内偏移量拼接就可以得到完整的24 bit的物理地址,就可以根据这个物理地址去找到FEEH这个页框,再根据页内偏移量在这个页框里面偏移若干个单位就可以直接找到我最终要访问的物理地址,{如果有快表的话先用虚拟页号查快表，},快表没有命中的情况下才会用虚拟页号去查内存里的慢表,{而内存里的慢表就存储在刚才操作系统的内核区，就是更高的那1GB里边存储了每一个进程的慢表},{假如说是二级页表的话，拆成第一级的页号和第二级的页号},然后通过查第一级的页表再查第二级的页表最终再确定要找的那个页框到底是在什么地方}
  \node[hnote] (bl-\i) at (18.3,{1351.6+(\i-1)*10.35}) {\t};

\foreach \x/\t [count=\i] in {513.2/{1.多个进程可以共享相同的页面，比如共享库的存储映射区这部分},522/{每一个进程在运行的时候都会使用到系统提供的一些printf、scanf库函数},522/{系统提供的一些函数、一些功能、一些指令，每一个进程都会使用到这些指令},522/{另外每一个进程的内核区都是共享同一片区域，},513.2/{2.共享可以用页表去实现让两个进程的页面映射到同一个页框里面，},522/{比如画了两个进程p2和p1这样的两个进程FFF9-FFFB这三个页面},522/{假如说两个进程都要共享这三个页面的printf、scanf这些共享的函数},522/{可以把这两个进程的FFF9-FFFB这几个页面让他们映射到同一个页框},522/{所以对于进程p2来说，假如说是采用二级页表，第一级的页表占8 bit},522/{第二级页表的页号也占8 bit的话，那么进程p2的FFF9、FFFA、FFFB},522/{让他们映射到01D、01F、FF1这几个位置},522/{同样的对于另一个进程p1来说，如果要让他们共享这几个页面的话也一样的},522/{让进程p1的FFF9、FFFA、FFFB让他们映射到01D、01F、FF1这几个位置},522/{这样的话这两个进程他们在物理页框里边对应的页面这些数据就对上了},513.2/{3.p1进程和p2进程访问访问自己的这三个虚拟页面的时候，},522/{最终总是会通过页表把它们映射到相同的几个页框当中},522/{这样的话就可以实现进程间的数据共享，实现进程间的页面共享},522/{而页面共享可以把它用于存储映射区也可以用于操作系统的内核区},513.2/{4.理解了每个进程的虚拟地址空间是怎么回事，虚拟地址空间和物理地址、物理页框之间是怎么一步一步变过去的}}
  \node[hnote] (bm-\i) at (\x,{1366.3+(\i-1)*10.55}) {\t};

\end{tikzpicture}
\end{document}
